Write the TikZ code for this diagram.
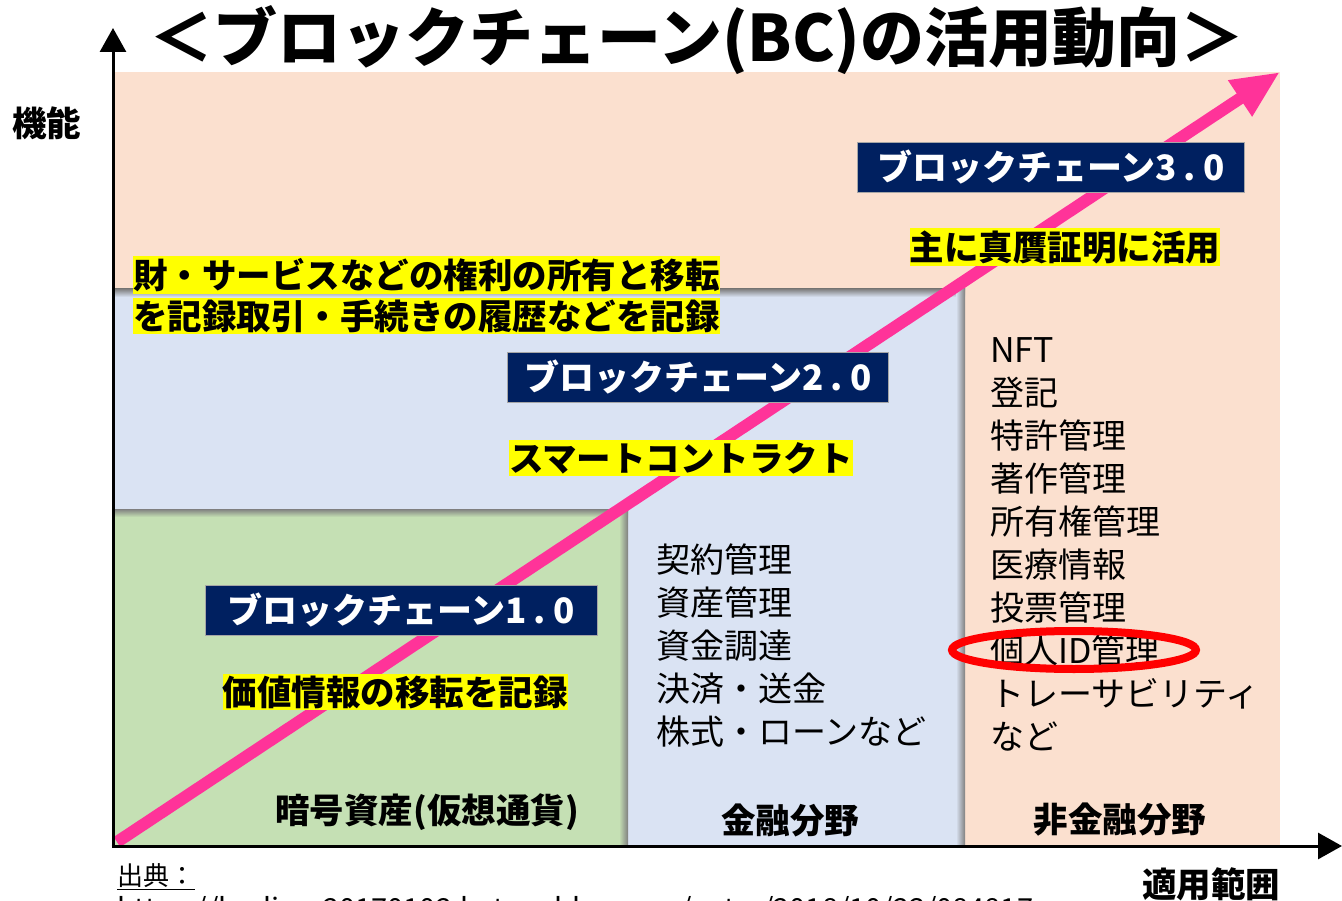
\documentclass[tikz,border=0pt]{standalone}
\usepackage{fontspec}
\setmainfont{Noto Sans CJK JP}
\usetikzlibrary{arrows.meta}
\definecolor{peach}{HTML}{FBE0CF}
\definecolor{bluefill}{HTML}{DAE3F3}
\definecolor{greenfill}{HTML}{C5E0B4}
\definecolor{navy}{HTML}{002060}
\definecolor{pinkc}{HTML}{FF3399}
\definecolor{hlyellow}{HTML}{FFFF00}
\begin{document}
\begin{tikzpicture}[x=1pt,y=-1pt,
  lbl/.style={font=\fontsize{34}{43}\selectfont, inner sep=0pt},
  bl/.style={inner sep=0pt, font=\fontsize{34.5}{43}\selectfont\bfseries},
  hl/.style={bl, fill=hlyellow, inner xsep=0pt, inner ysep=2pt},
  navybox/.style={fill=navy, draw=black!35, text=white, font=\fontsize{35}{40}\selectfont\bfseries, minimum height=50pt, inner sep=0pt},
  listtxt/.style={lbl, align=left, anchor=west},
  axis/.style={line width=3pt, -{Triangle[length=24pt,width=26pt]}},
]
\useasboundingbox (0,0) rectangle (1342,901);
% regions
\fill[peach] (115,72) rectangle (1280,845);
\fill[bluefill] (115,290) rectangle (965,845);
\shade[top color=black!50, bottom color=bluefill] (115,289) rectangle (965,297);
\shade[left color=bluefill, right color=black!50] (956,289) rectangle (965,845);
\fill[greenfill] (115,510) rectangle (628,845);
\shade[top color=black!50, bottom color=greenfill] (115,509) rectangle (628,517);
\shade[left color=greenfill, right color=black!50] (619,509) rectangle (628,845);
% pink arrow
\coordinate (arrS) at (117,842);
\coordinate (arrE) at (1280,72);
\draw[pinkc, line width=12pt, -{Triangle[length=48pt,width=40pt]}] (arrS) -- (arrE);
% axes
\coordinate (org) at (113,846);
\coordinate (ytip) at (113,28);
\coordinate (xtip) at (1342,846);
\draw[axis] (org) -- (ytip);
\draw[axis] ([xshift=-1.5pt]org) -- (xtip);
% title and axis labels
\node[inner sep=0pt, font=\fontsize{64}{70}\selectfont\bfseries] (title) at (697,40) {＜ブロックチェーン(BC)の活用動向＞};
\node[bl] (kino) at (47,123) {機能};
\node[bl] (tekiyo) at (1211,884) {適用範囲};
% navy boxes
\node[navybox, minimum width=387pt] (v3) at (1051,167) {ブロックチェーン3\kern7pt.\kern7pt0};
\node[navybox, minimum width=381pt] (v2) at (698,377) {ブロックチェーン2\kern7pt.\kern7pt0};
\node[navybox, minimum width=392pt] (v1) at (401,610) {ブロックチェーン1\kern7pt.\kern7pt0};
% yellow highlights
\node[hl] (y3) at (1065,247) {主に真贋証明に活用};
\node[hl] (y2) at (681,458) {スマートコントラクト};
\node[hl] (y1) at (395,692) {価値情報の移転を記録};
\node[hl, anchor=west] (yt1) at (133,275) {財・サービスなどの権利の所有と移転};
\node[hl, anchor=west] (yt2) at (133,316) {を記録取引・手続きの履歴などを記録};
% lists
\node[listtxt] (lb) at (656,646) {契約管理\\資産管理\\資金調達\\決済・送金\\株式・ローンなど};
\node[listtxt] (lp) at (990,544) {NFT\\登記\\特許管理\\著作管理\\所有権管理\\医療情報\\投票管理\\個人ID管理\\トレーサビリティ\\など};
\draw[red, line width=8pt] (1074,650) ellipse [x radius=122, y radius=19];
% category labels
\node[bl] (c1) at (427,812) {暗号資産(仮想通貨)};
\node[bl] (c2) at (790,820) {金融分野};
\node[bl] (c3) at (1120,820) {非金融分野};
% source
\node[inner sep=0pt, anchor=west, font=\fontsize{26}{30}\selectfont] (src) at (117,877) {\underline{出典：}};
\node[inner sep=0pt, anchor=west, font=\fontsize{29}{32}\selectfont] (url) at (117,912) {https://bodiary20170102.hatenablog.com/entry/2018/10/23/084817};
\end{tikzpicture}
\end{document}
